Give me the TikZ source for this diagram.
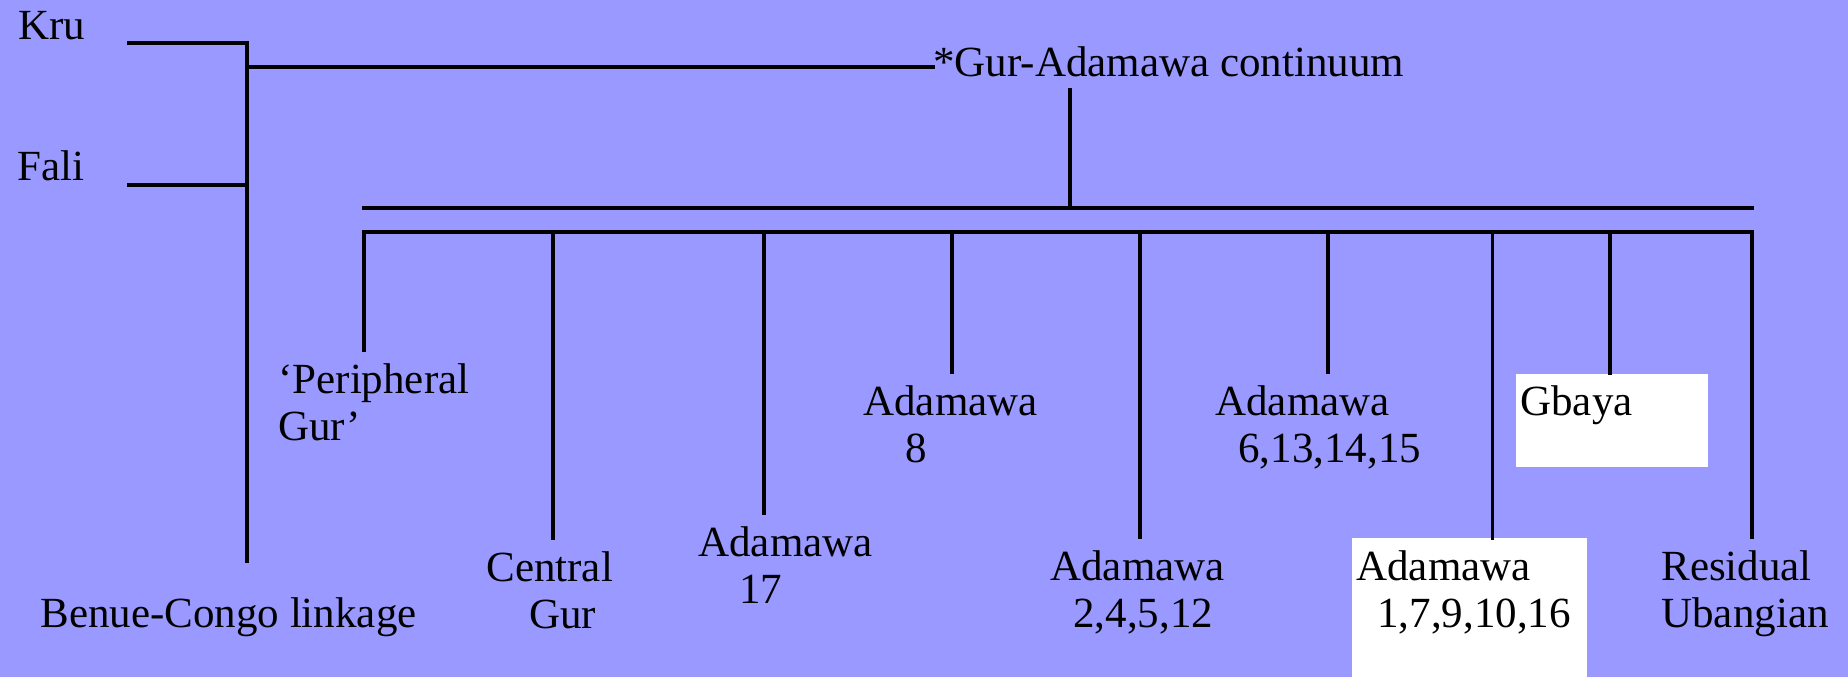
\documentclass[tikz,border=0pt]{standalone}
\usepackage{fontspec}
\setmainfont{Liberation Serif}
\usepackage{tikz}
\usetikzlibrary{positioning}
\definecolor{lavender}{RGB}{153,153,255}
\newcommand{\twoline}[2]{\begin{tabular}[t]{@{}l@{}}#1\\#2\end{tabular}}
\tikzset{
  branch/.style={line width=1.6pt,line cap=rect},
  lbl/.style={anchor=base west,inner sep=0pt,
              font=\fontsize{21.5}{23.5}\selectfont},
  whitebox/.style={fill=white,draw=none,inner sep=0pt,anchor=north west}
}

\begin{document}
\begin{tikzpicture}[x=0.5pt,y=-0.5pt]
     \fill[lavender] (0,0) rectangle (1848,677);
     \useasboundingbox (0,0) rectangle (1848,677);
     % white boxes
     \node[whitebox,minimum width=96pt,minimum height=46.75pt] (gbbox) at (1516,373.5) {};
     \node[whitebox,minimum width=117.5pt,minimum height=70pt] (adbox) at (1352,538) {};
     % labels
     \node[lbl] (kru) at (18,39)    {Kru};
     \node[lbl] (fali) at (17,180.5) {Fali};
     \node[lbl] (gac) at (933,76)   {*Gur-Adamawa continuum};
     \node[lbl] (bc) at (40,627)    {Benue-Congo linkage};
     \node[lbl] (pg) at (278,393)   {\twoline{`Peripheral}{Gur'}};
     \node[lbl] (cg) at (486,581)   {\twoline{Central}{\hspace*{21.5pt}Gur}};
     \node[lbl] (a17) at (698,556)  {\twoline{Adamawa}{\hspace*{20.5pt}17}};
     \node[lbl] (a8) at (863,415)   {\twoline{Adamawa}{\hspace*{21pt}8}};
     \node[lbl] (a2) at (1050,580)  {\twoline{Adamawa}{\hspace*{11.5pt}2,4,5,12}};
     \node[lbl] (a6) at (1215,415)  {\twoline{Adamawa}{\hspace*{11.5pt}6,13,14,15}};
     \node[lbl] (gb) at (1520,415)  {Gbaya};
     \node[lbl] (a1) at (1356,580)  {\twoline{Adamawa}{\hspace*{10.5pt}1,7,9,10,16}};
     \node[lbl] (ru) at (1661,580)  {\twoline{Residual}{Ubangian}};
     % joints
     \coordinate (kru0) at (129,43);
     \coordinate (fali0) at (129,185);
     \coordinate (fork) at (247,43);
     \coordinate (forkbot) at (247,561);
     \coordinate (gaj) at (247,67);
     \coordinate (gaup) at (1070,90);
     \coordinate (b1w) at (364,208);
     \coordinate (b1e) at (1752,208);
     \foreach \n/\x in {pg/364,cg/553,a17/764,a8/952,a2/1140,a6/1328,a1/1492.5,gb/1610,ru/1752}
       \coordinate (j\n) at (\x,232);
     % tree
     \draw[branch] (kru0) -- (fork) -- (forkbot);
     \draw[branch] (fali0) -- (fali0 -| fork);
     \draw[branch] (gaj) -- (gaj -| gac.west);
     \draw[branch] (gaup) -- (gaup |- b1w);
     \draw[branch] (b1w) -- (b1e);
     \draw[branch,shorten <=21.5pt,shorten >=21.5pt] (jpg |- pg.base) -- (jpg) -- (jru) -- (jru |- ru.base);
     \foreach \n in {cg,a17,a8,a2,a6}
       \draw[branch,shorten >=21.5pt] (j\n) -- (j\n |- \n.base);
     \draw[branch] (ja1) -- (ja1 |- adbox.north);
     \draw[branch] (jgb) -- (jgb |- gbbox.north);
\end{tikzpicture}
\end{document}
